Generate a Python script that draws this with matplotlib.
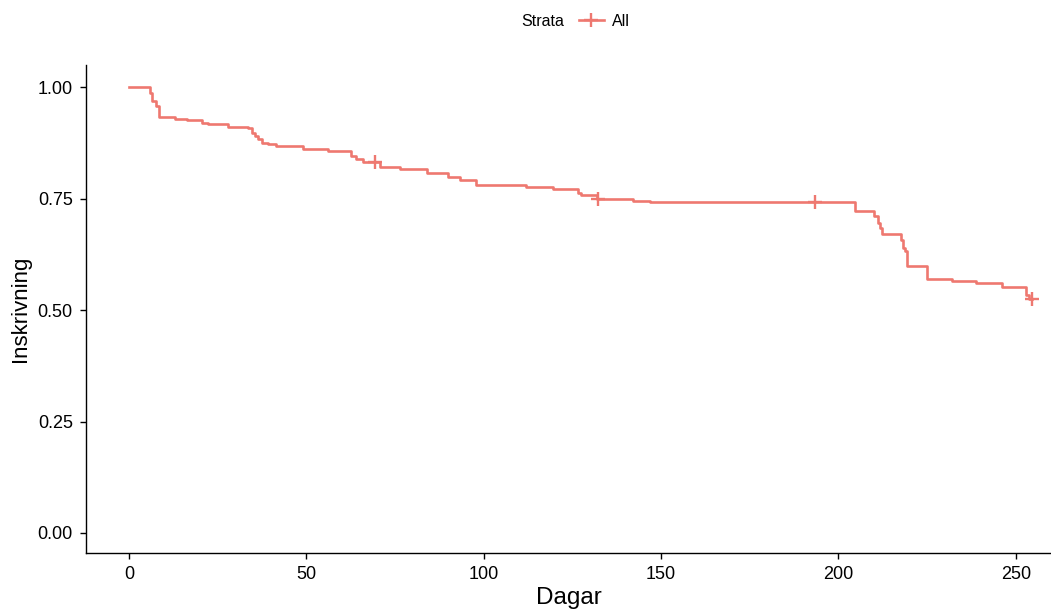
import numpy as np
import matplotlib
matplotlib.use('Agg')
import matplotlib.pyplot as plt
from matplotlib.lines import Line2D

plt.rcParams['font.family'] = ['Liberation Sans', 'DejaVu Sans']

# Kaplan-Meier steps (time of event, survival after the step)
times = [0, 6.0, 6.5, 7.5, 8.5, 13, 16.3, 20.5, 22.3, 27.9, 33.5, 34.7, 35.5,
         36.4, 37.5, 39.2, 41.4, 49, 56, 62.5, 64, 66, 70.7, 76.4, 84, 90,
         93.3, 97.8, 112, 119.5, 126.5, 127.5, 131.8, 142, 146.8, 204.6, 210,
         211, 211.6, 212.2, 217.6, 218.2, 218.7, 219.3, 225, 231.9, 238.9,
         246, 252.8, 253.6]
surv = [1.0, 0.988, 0.969, 0.958, 0.933, 0.929, 0.926, 0.920, 0.918, 0.912,
        0.908, 0.898, 0.890, 0.883, 0.876, 0.872, 0.868, 0.861, 0.857, 0.846,
        0.838, 0.832, 0.822, 0.816, 0.808, 0.799, 0.793, 0.780, 0.777, 0.772,
        0.763, 0.758, 0.750, 0.745, 0.742, 0.723, 0.711, 0.696, 0.685, 0.670,
        0.658, 0.640, 0.632, 0.600, 0.570, 0.565, 0.560, 0.552, 0.535, 0.525]
censor_times = [69.3, 132.3, 193.3, 254.5]

xticks = [0, 50, 100, 150, 200, 250]
yticks = [0.00, 0.25, 0.50, 0.75, 1.00]

col = '#EE7870'

fig = plt.figure(figsize=(10.51, 6.11), dpi=100)
ax = fig.add_axes([0.0818, 0.0949, 0.9182, 0.7987])

t_all = np.array(times + [censor_times[-1]])
s_all = np.array(surv + [surv[-1]])
ax.step(t_all, s_all, where='post', color=col, lw=1.9)

idx = np.searchsorted(np.array(times), censor_times, side='right') - 1
cens_s = np.array(surv)[idx]
ax.plot(censor_times, cens_s, ls='none', marker='+', ms=10, mew=1.7, color=col)

ax.set_xlim(-12.1, 259.9)
ax.set_ylim(-0.045, 1.05)
ax.set_xticks(xticks)
ax.set_xticklabels([str(v) for v in xticks])
ax.set_yticks(yticks)
ax.set_yticklabels(['%.2f' % v for v in yticks])
ax.tick_params(labelsize=13, length=4.5, width=1, colors='black', direction='out', pad=5)

for s in ['top', 'right']:
    ax.spines[s].set_visible(False)
for s in ['left', 'bottom']:
    ax.spines[s].set_linewidth(1.0)

ax.set_xlabel('Dagar', fontsize=17.5, labelpad=3)
ax.set_ylabel('Inskrivning', fontsize=16, labelpad=5)

# legend on top: "Strata  + All"
fig.text(0.516, 0.965, 'Strata', fontsize=11.5, ha='center', va='center')
h = Line2D([], [], color=col, lw=1.9, marker='+', ms=10, mew=1.7)
fig.legend(handles=[h], labels=['All'], loc='center', bbox_to_anchor=(0.575, 0.965),
           frameon=False, fontsize=11.5, handlelength=1.6, handletextpad=0.5,
           borderaxespad=0, borderpad=0)

fig.savefig('out.png', dpi=100)
